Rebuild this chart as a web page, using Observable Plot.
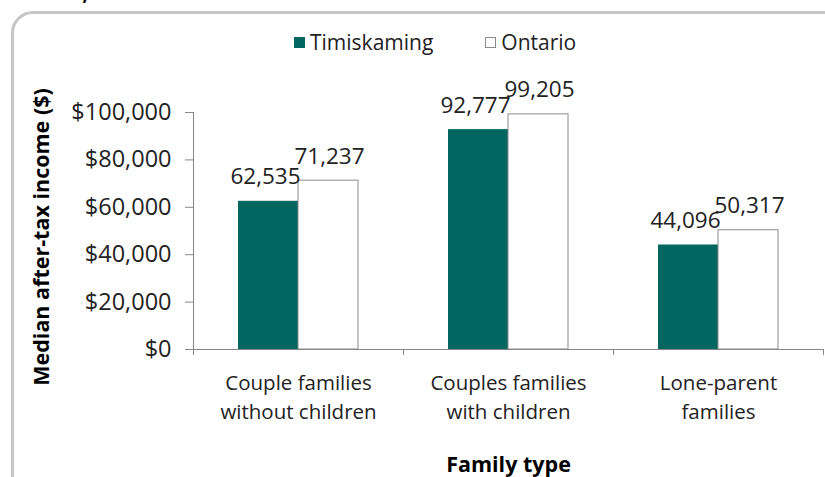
<!DOCTYPE html>
<html>
<head>
<meta charset="utf-8">
<script src="https://cdn.jsdelivr.net/npm/d3@7"></script>
<script src="https://cdn.jsdelivr.net/npm/@observablehq/plot@0.6"></script>
<style>
  html, body { margin: 0; padding: 0; background: #fff; }
  #wrap { position: relative; width: 825px; height: 477px; overflow: hidden; font-family: "Open Sans", sans-serif; }
  #frame { position: absolute; left: 11px; top: 11px; width: 840px; height: 500px; border: 3px solid #c6c6c6; border-radius: 22px; box-sizing: border-box; }
  #title { position: absolute; left: 9px; top: -16px; font-weight: bold; font-size: 19px; color: #000; line-height: 1; white-space: nowrap; }
  #legend { position: absolute; left: 294px; top: 28px; font-size: 21px; color: #222; display: flex; align-items: center; }
  .sw { display: inline-block; width: 11px; height: 11px; margin-right: 5px; box-sizing: border-box; }
  #chart { position: absolute; left: 0; top: 0; }
</style>
</head>
<body>
<div id="wrap">
  <div id="title">Ontario, 2015</div>
  <div id="frame"></div>
  <div id="legend"></div>
  <div id="chart"></div>
</div>
<script>
const categories = ["Couple families\nwithout children", "Couples families\nwith children", "Lone-parent\nfamilies"];
const seriesNames = ["Timiskaming", "Ontario"];
const timiskaming = [62535, 92777, 44096];
const ontario = [71237, 99205, 50317];
const yTicks = [0, 20000, 40000, 60000, 80000, 100000];
const colors = { Timiskaming: "#006660", Ontario: "#ffffff" };

const W = 825, H = 477, mL = 193, mR = 2, mT = 112, mB = 128;
const band = (W - mL - mR) / categories.length;
const barW = 60;
const outer = (band - 2 * barW) / 2;

const rowsT = categories.map((c, i) => ({ category: c, value: timiskaming[i] }));
const rowsO = categories.map((c, i) => ({ category: c, value: ontario[i] }));
const fmt = d3.format(",");

const legend = document.getElementById("legend");
legend.innerHTML = `
  <span class="sw" style="background:${colors.Timiskaming}"></span><span>${seriesNames[0]}</span>
  <span style="display:inline-block;width:52px"></span>
  <span class="sw" style="background:#fff;border:1px solid #8a8a8a"></span><span>${seriesNames[1]}</span>`;

const chart = Plot.plot({
  width: W, height: H,
  marginLeft: mL, marginRight: mR, marginTop: mT, marginBottom: mB,
  style: { fontFamily: "'Open Sans', sans-serif", fontSize: "20px", color: "#222", background: "transparent", overflow: "visible" },
  x: { domain: categories, padding: 0 },
  y: { domain: [0, 100000] },
  marks: [
    Plot.barY(rowsT, { x: "category", y: "value", fill: colors.Timiskaming, insetLeft: outer, insetRight: band - outer - barW }),
    Plot.barY(rowsO, { x: "category", y: "value", fill: colors.Ontario, stroke: "#8a8a8a", strokeWidth: 1, insetLeft: outer + barW, insetRight: outer }),
    Plot.text(rowsT, { x: "category", y: "value", text: d => fmt(d.value), dx: -barW / 2 - 3, dy: -17, lineAnchor: "bottom", fill: "#222", fontSize: 22.5 }),
    Plot.text(rowsO, { x: "category", y: "value", text: d => fmt(d.value), dx: barW / 2 + 1, dy: -17, lineAnchor: "bottom", fill: "#222", fontSize: 22.5 }),
    Plot.frame({ anchor: "left", stroke: "#868686" }),
    Plot.frame({ anchor: "bottom", stroke: "#868686" }),
    Plot.ruleX(categories, { x: d => d, y1: 0, y2: 0, insetBottom: -6, dx: -band / 2, stroke: "#868686" }),
    Plot.ruleX(categories.slice(-1), { x: d => d, y1: 0, y2: 0, insetBottom: -6, dx: band / 2, stroke: "#868686" }),
    Plot.axisY({ ticks: yTicks, tickFormat: d => "$" + fmt(d), tickSize: 8, tickPadding: 14, stroke: "#868686", fontSize: 23.5, label: null }),
    Plot.axisX({ tickSize: 0, tickPadding: 19, fontSize: 20.5, lineHeight: 1.45, label: null }),
    Plot.text(["Median after-tax income ($)"], { frameAnchor: "left", dx: -151, dy: 6, rotate: -90, textAnchor: "middle", fontWeight: "bold", fontSize: 21.5, fill: "#000" }),
    Plot.text(["Family type"], { frameAnchor: "bottom", dy: 122, textAnchor: "middle", fontWeight: "bold", fontSize: 21.5, fill: "#000" })
  ]
});
document.getElementById("chart").appendChild(chart);
</script>
</body>
</html>
